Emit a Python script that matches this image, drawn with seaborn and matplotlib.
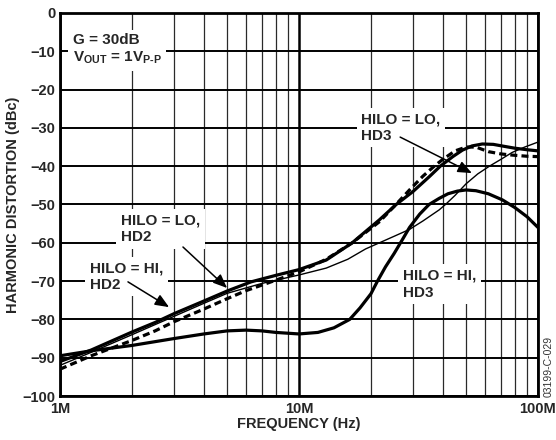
import matplotlib
matplotlib.use("Agg")
import matplotlib.pyplot as plt
import seaborn as sns
import pandas as pd

# ---------------- data (frequency in MHz, distortion in dBc) ----------------
hd3_hi_f = [1, 1.35, 2, 3, 4, 5, 6, 7, 8, 10, 12, 14, 16.3, 18, 20, 21.3, 23, 25, 27, 29,
            32, 35, 38.6, 42, 46, 50, 55, 62, 71, 80, 90, 100]
hd3_hi_v = [-89.5, -88.2, -86.8, -85.0, -83.8, -83.0, -82.8, -83.0, -83.4, -83.8, -83.4, -82.2,
            -80.0, -77.0, -73.3, -70.0, -66.3, -62.8, -59.3, -56.0, -52.5, -50.0, -48.4, -47.2,
            -46.5, -46.2, -46.4, -47.2, -48.8, -50.8, -53.2, -56.0]

hd2_thick_f = [1, 1.35, 2, 2.5, 3, 4, 5, 6.3, 8, 10, 13, 16.7, 21.7, 25.5, 30, 35, 39, 44,
               48.3, 53, 58.5, 65, 72, 80, 90, 100]
hd2_thick_v = [-91.0, -88.0, -83.3, -80.8, -78.5, -75.2, -72.6, -70.2, -68.5, -67.0, -64.5,
               -60.0, -54.0, -50.0, -46.6, -42.8, -40.0, -37.5, -35.8, -34.7, -34.2, -34.3,
               -34.8, -35.3, -35.7, -36.0]

hd2_dash_f = [1, 1.35, 2, 2.5, 3, 4, 5, 6, 7.8, 10, 13, 16.7, 21.7, 25, 29, 33, 36.8, 40,
              45, 50, 55, 62, 70, 78, 90, 100]
hd2_dash_v = [-93.0, -89.5, -85.5, -83.0, -80.6, -77.3, -74.6, -72.5, -70.0, -67.6, -64.3,
              -60.0, -54.5, -50.5, -46.2, -42.6, -40.0, -38.2, -36.0, -35.0, -35.0, -36.2,
              -36.8, -37.1, -37.4, -37.5]

hd3_lo_f = [1, 1.35, 2, 3, 4, 5, 7, 10, 13, 16, 19, 21.7, 25, 29, 33, 38.6, 41, 45, 50, 56,
            62.6, 70, 78, 88, 100]
hd3_lo_v = [-92.0, -88.6, -84.0, -79.2, -75.8, -73.2, -70.6, -68.4, -66.6, -64.3, -61.6,
            -60.0, -58.3, -56.5, -54.3, -51.4, -50.0, -47.6, -44.6, -42.0, -40.0, -38.2,
            -36.4, -35.0, -33.7]

x_ticks = [1, 10, 100]
x_tick_labels = ["1M", "10M", "100M"]
y_ticks = [0, -10, -20, -30, -40, -50, -60, -70, -80, -90, -100]
y_tick_labels = ["0", "\u221210", "\u221220", "\u221230", "\u221240", "\u221250",
                 "\u221260", "\u221270", "\u221280", "\u221290", "\u2212100"]

# ---------------- style ----------------
sns.set_style("white")
plt.rcParams["font.family"] = ["Liberation Sans", "DejaVu Sans"]
plt.rcParams["mathtext.fontset"] = "custom"
plt.rcParams["mathtext.bf"] = "Liberation Sans:bold"
plt.rcParams["mathtext.rm"] = "Liberation Sans:bold"
plt.rcParams["mathtext.it"] = "Liberation Sans:bold"

fig = plt.figure(figsize=(5.56, 4.40), dpi=100)
ax = fig.add_axes([60 / 556, 44 / 440, 478 / 556, 383 / 440])
ax.set_xscale("log")

# ---------------- curves ----------------
sns.lineplot(data=pd.DataFrame({"f": hd3_lo_f, "v": hd3_lo_v}), x="f", y="v", ax=ax,
             color="black", linewidth=1.0, zorder=5)
sns.lineplot(data=pd.DataFrame({"f": hd2_dash_f, "v": hd2_dash_v}), x="f", y="v", ax=ax,
             color="black", linewidth=2.3, linestyle=(0, (2.2, 1.3)), zorder=6)
sns.lineplot(data=pd.DataFrame({"f": hd2_thick_f, "v": hd2_thick_v}), x="f", y="v", ax=ax,
             color="black", linewidth=2.3, zorder=6)
sns.lineplot(data=pd.DataFrame({"f": hd3_hi_f, "v": hd3_hi_v}), x="f", y="v", ax=ax,
             color="black", linewidth=2.3, zorder=6)

# ---------------- axes ----------------
ax.set_xlim(1, 100)
ax.set_ylim(-100, 0)
ax.set_xticks(x_ticks)
ax.set_xticklabels(x_tick_labels)
ax.set_xticks([2, 3, 4, 5, 6, 7, 8, 9, 20, 30, 40, 50, 60, 70, 80, 90], minor=True)
ax.set_yticks(y_ticks)
ax.set_yticklabels(y_tick_labels)
ax.tick_params(axis="both", which="both", length=0, labelsize=10.5)
ax.tick_params(axis="x", pad=4)
ax.tick_params(axis="y", pad=3.5)
for lab in ax.get_xticklabels() + ax.get_yticklabels():
    lab.set_fontweight("bold")

ax.yaxis.grid(True, which="major", color="black", linewidth=1.4, zorder=1)
ax.xaxis.grid(True, which="major", color="black", linewidth=1.8, zorder=1)
ax.xaxis.grid(True, which="minor", color="#2a2a2a", linewidth=0.9, zorder=1)
ax.set_axisbelow(True)
for s in ax.spines.values():
    s.set_linewidth(2.0)
    s.set_color("black")
    s.set_visible(True)

ax.set_xlabel("FREQUENCY (Hz)", fontsize=10.5, fontweight="bold")
ax.xaxis.label.set_va("center")
ax.xaxis.set_label_coords(0.5, -(424 - 396) / 383)
ax.set_ylabel("HARMONIC DISTORTION (dBc)", fontsize=10.5, fontweight="bold")
ax.yaxis.label.set_va("center")
ax.yaxis.set_label_coords(-(60 - 13) / 478, 0.5)

# ---------------- annotations ----------------
box = dict(boxstyle="square,pad=0.3", fc="white", ec="none")
tkw = dict(fontsize=11, fontweight="bold", ha="left", va="center", linespacing=1.25,
           bbox=box, zorder=4)
ax.text(1.133, -9.6, "G = 30dB\nV$_{\\mathbf{OUT}}$ = 1V$_{\\mathbf{P\\text{-}P}}$", **tkw)
ax.text(18.2, -29.9, "HILO = LO,\nHD3", **tkw)
ax.text(1.8, -56.3, "HILO = LO,\nHD2", **tkw)
ax.text(1.335, -68.8, "HILO = HI,\nHD2", **tkw)
ax.text(27.2, -70.8, "HILO = HI,\nHD3", **tkw)

akw = dict(arrowstyle="-|>,head_length=0.6,head_width=0.25", color="black", lw=1.1,
           mutation_scale=14, shrinkA=0, shrinkB=0)
ax.annotate("", xy=(52.9, -41.8), xytext=(26.5, -32.4), arrowprops=akw, zorder=7)
ax.annotate("", xy=(5.0, -71.8), xytext=(3.27, -61.1), arrowprops=akw, zorder=7)
ax.annotate("", xy=(2.86, -76.8), xytext=(1.925, -70.2), arrowprops=akw, zorder=7)

fig.text(549 / 556, 1 - 366 / 440, "03199-C-029", rotation=90, fontsize=7.5,
         ha="center", va="center", color="#333333")

fig.savefig("out.png", dpi=100)
